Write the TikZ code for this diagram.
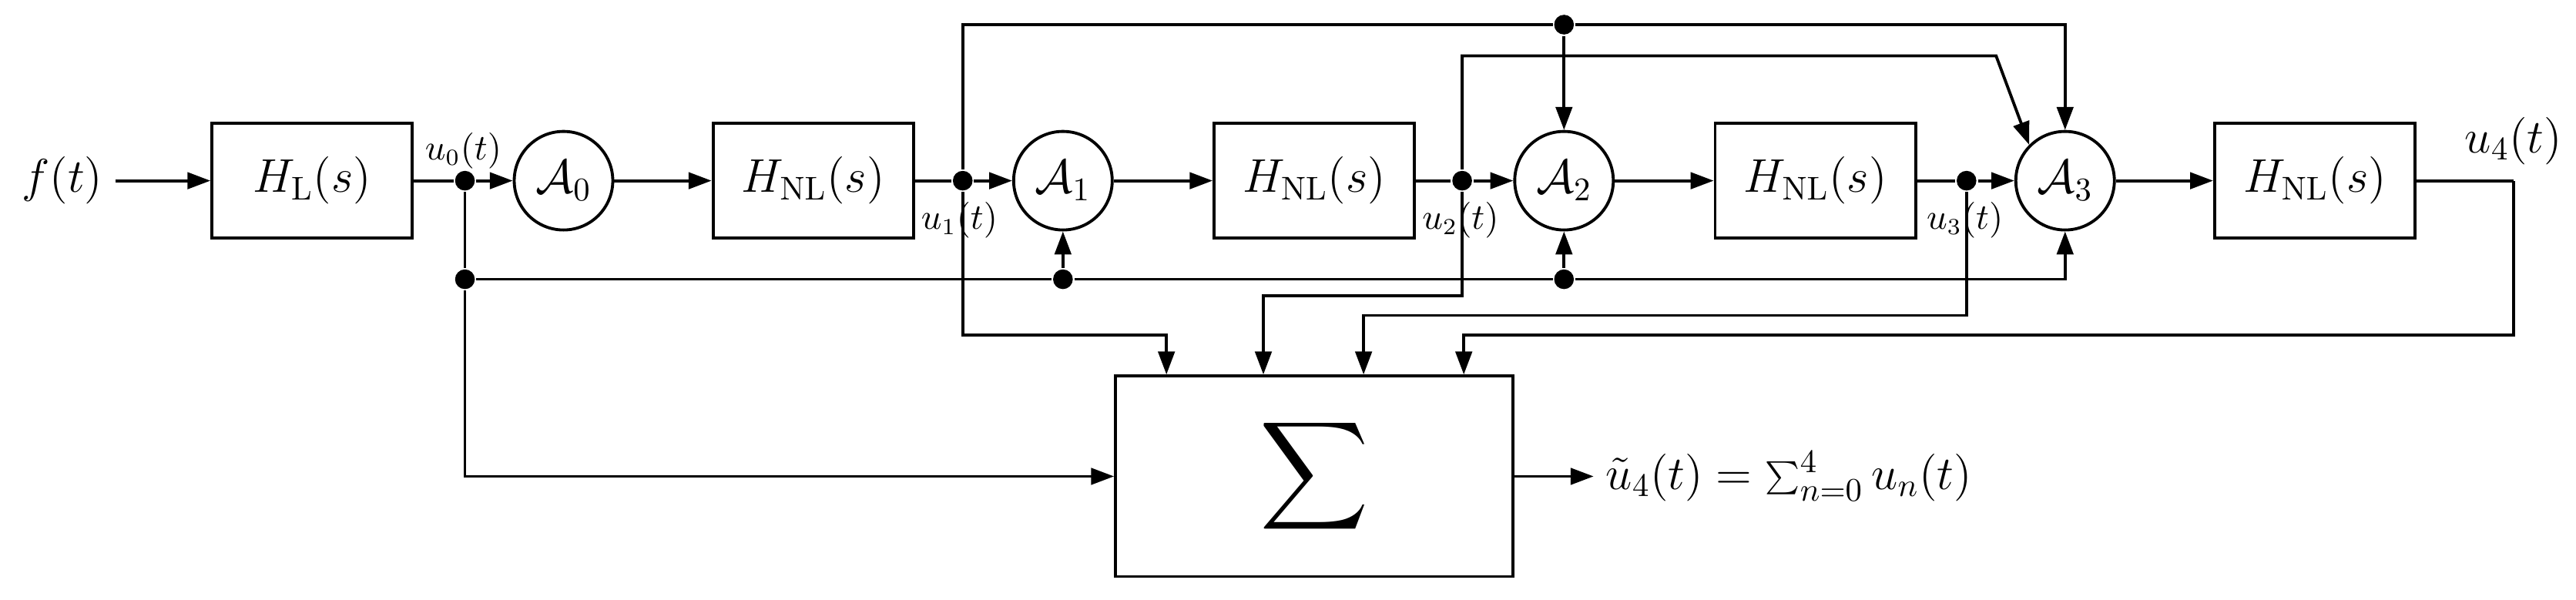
\documentclass[tikz,border=0pt]{standalone}
\usetikzlibrary{arrows.meta}
\begin{document}
\begin{tikzpicture}[x=0.5pt,y=-0.5pt,line width=0.9pt,
  blk/.style={draw,minimum width=61pt,minimum height=35pt,inner sep=0pt,font=\fontsize{14}{16}\selectfont},
  op/.style={draw,circle,minimum size=30pt,inner sep=0pt,font=\fontsize{14}{16}\selectfont},
  dot/.style={circle,fill,inner sep=0pt,minimum size=6pt},
  lab/.style={font=\fontsize{10.5}{12}\selectfont,inner sep=1pt},
  >={Triangle[length=7pt,width=5pt]}]
\useasboundingbox (0,0) rectangle (1568,365);
\node[font=\fontsize{14}{16}\selectfont] (f) at (38,110) {$f(t)$};
\node[blk] (hl) at (190,110) {$H_{\mathrm{L}}(s)$};
\node[dot] (j0) at (283,110) {};
\node[lab] at (282,92) {$u_0(t)$};
\node[op] (a0) at (343,110) {$\mathcal{A}_0$};
\node[blk] (h1) at (495,110) {$H_{\mathrm{NL}}(s)$};
\node[dot] (j1) at (586,110) {};
\node[lab] at (584,134) {$u_1(t)$};
\node[op] (a1) at (647,110) {$\mathcal{A}_1$};
\node[blk] (h2) at (800,110) {$H_{\mathrm{NL}}(s)$};
\node[dot] (j2) at (890,110) {};
\node[lab] at (889,134) {$u_2(t)$};
\node[op] (a2) at (952,110) {$\mathcal{A}_2$};
\node[blk] (h3) at (1105,110) {$H_{\mathrm{NL}}(s)$};
\node[dot] (j3) at (1197,110) {};
\node[lab] at (1196,134) {$u_3(t)$};
\node[op] (a3) at (1257,110) {$\mathcal{A}_3$};
\node[blk] (h4) at (1409,110) {$H_{\mathrm{NL}}(s)$};
\node[font=\fontsize{14}{16}\selectfont] (u4) at (1530,86) {$u_4(t)$};
\coordinate (c4) at (1530,110);
\node[draw,minimum width=121pt,minimum height=61pt,inner sep=0pt] (sig) at (800,290) {\scalebox{2.3}{$\displaystyle\sum$}};
\node[font=\fontsize{14}{16}\selectfont,anchor=west] (out) at (970,290) {$\tilde{u}_4(t)=\sum_{n=0}^{4}u_n(t)$};
\node[dot] (b0) at (283,170) {};
\node[dot] (b1) at (647,170) {};
\node[dot] (b2) at (952,170) {};
\node[dot] (t2) at (952,15) {};
% main chain
\draw[->] (f) -- (hl);
\draw (hl) -- (j0);
\draw[->] (j0) -- (a0);
\draw[->] (a0) -- (h1);
\draw (h1) -- (j1);
\draw[->] (j1) -- (a1);
\draw[->] (a1) -- (h2);
\draw (h2) -- (j2);
\draw[->] (j2) -- (a2);
\draw[->] (a2) -- (h3);
\draw (h3) -- (j3);
\draw[->] (j3) -- (a3);
\draw[->] (a3) -- (h4);
\draw (h4) -- (c4);
% bottom bus
\draw (j0) -- (b0);
\draw[->] (b0) -- (b1) -- (b2) -- (1257,170) -- (a3.south);
\draw[->] (b1) -- (a1.south);
\draw[->] (b2) -- (a2.south);
\draw[->] (b0) |- (sig.west);
% top buses
\draw[->] (j1) -- (586,15) -- (t2) -- (1257,15) -- (a3.north);
\draw[->] (t2) -- (a2.north);
\draw[->] (j2) -- (890,34) -- (1215,34) -- (a3.135);
% to sum
\draw[->] (j1) -- (586,204) -- (710,204) -- (710,228);
\draw[->] (j2) -- (890,180) -- (769,180) -- (769,228);
\draw[->] (j3) -- (1197,192) -- (830,192) -- (830,228);
\draw[->] (c4) -- (1530,204) -- (891,204) -- (891,228);
\draw[->] (sig.east) -- (out.west);
\end{tikzpicture}
\end{document}
